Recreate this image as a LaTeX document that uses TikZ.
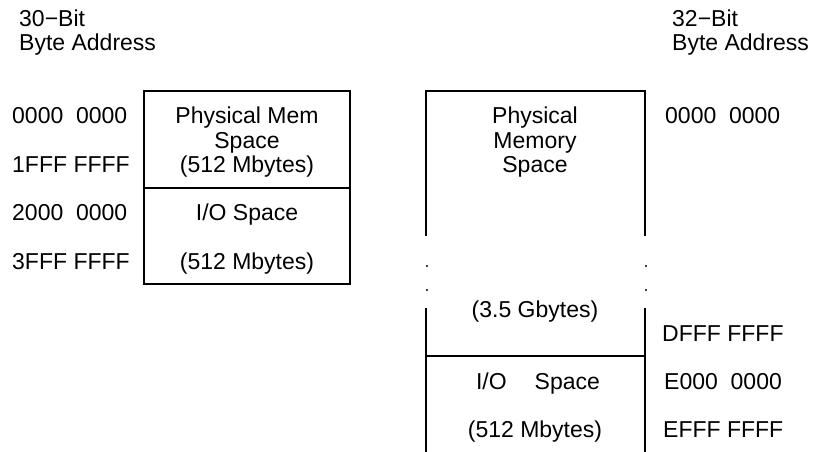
\documentclass[tikz,border=0pt]{standalone}
\usepackage{fontspec}
\setmainfont{Liberation Sans}
\begin{document}
\begin{tikzpicture}[x=1pt,y=-1pt,
  txt/.style={inner sep=0pt,font=\fontsize{23}{25}\selectfont},
  lbl/.style={txt,anchor=base west},
  ctr/.style={txt,anchor=base},
  frame/.style={line width=1.6pt},
  dotmark/.style={fill=black,draw=none}]
\useasboundingbox (0,0) rectangle (817,452);
% headers
\node[lbl] (h1a) at (19,27) {30−Bit};
\node[lbl] (h1b) at (19,51) {Byte Address};
\node[lbl] (h2a) at (672,27) {32−Bit};
\node[lbl] (h2b) at (672,51) {Byte Address};
% left addresses
\node[lbl] (la1) at (12,124) {0000\ \ 0000};
\node[lbl] (la2) at (12,172) {1FFF FFFF};
\node[lbl] (la3) at (12,220) {2000\ \ 0000};
\node[lbl] (la4) at (12,269) {3FFF FFFF};
% left box
\draw[frame] (144,91) rectangle (350,284);
\draw[frame] (144,188) -- (350,188);
\node[ctr] (lb1) at (247,123) {Physical Mem};
\node[ctr] (lb2) at (247,148) {Space};
\node[ctr] (lb3) at (247,172) {(512 Mbytes)};
\node[ctr] (lb4) at (247,220) {I/O Space};
\node[ctr] (lb5) at (247,269) {(512 Mbytes)};
% right box
\draw[frame] (426,236) -- (426,91) -- (645,91) -- (645,236);
\draw[frame] (426,308) -- (426,452);
\draw[frame] (645,308) -- (645,452);
\draw[frame] (426,356) -- (645,356);
\foreach \xx in {427,646}{
  \foreach \yy in {266,290}{
    \fill[dotmark] (\xx,\yy) circle (1.2);
  }
}
\node[ctr] (rb1) at (535,123) {Physical};
\node[ctr] (rb2) at (535,148) {Memory};
\node[ctr] (rb3) at (535,172) {Space};
\node[ctr] (rb4) at (535,317) {(3.5 Gbytes)};
\node[ctr] (rb5) at (538,389) {I/O\hspace{28pt}Space};
\node[ctr] (rb6) at (535,437) {(512 Mbytes)};
% right addresses
\node[lbl] (ra1) at (665,123) {0000\ \ 0000};
\node[lbl] (ra2) at (662,341) {DFFF FFFF};
\node[lbl] (ra3) at (664,389) {E000\ \ 0000};
\node[lbl] (ra4) at (663,437) {EFFF FFFF};
\end{tikzpicture}
\end{document}
